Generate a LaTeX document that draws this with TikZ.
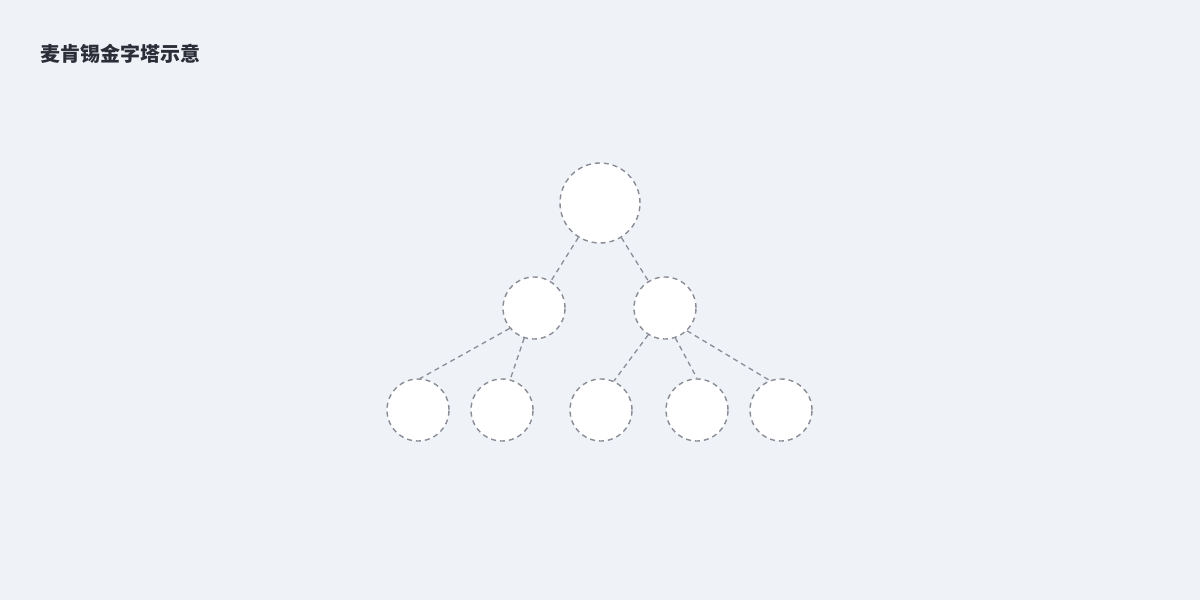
\documentclass[tikz,border=0pt]{standalone}
\usepackage{fontspec}
\newfontfamily\cjk{Noto Sans CJK SC}
\definecolor{bg}{HTML}{EFF2F7}
\definecolor{edge}{HTML}{8A8D96}
\definecolor{titlec}{HTML}{2B2D38}
\tikzset{
  circ/.style={circle, draw=edge, fill=white, line width=1.4pt, dash pattern=on 5pt off 4pt, inner sep=0pt},
  big/.style={circ, minimum size=80pt},
  small/.style={circ, minimum size=62pt},
  link/.style={draw=edge, line width=1.3pt, dash pattern=on 5pt off 4pt}
}
\begin{document}
\begin{tikzpicture}[x=1pt,y=-1pt]
\fill[bg] (0,0) rectangle (1200,600);
\useasboundingbox (0,0) rectangle (1200,600);
\node[anchor=west, text=titlec, font=\cjk\bfseries\fontsize{20}{24}\selectfont, inner sep=0pt] (title) at (40,54) {麦肯锡金字塔示意};
\node[big] (top) at (600,203) {};
\node[small] (ml) at (534,308) {};
\node[small] (mr) at (665,308) {};
\node[small] (l1) at (418,410) {};
\node[small] (l2) at (502,410) {};
\node[small] (l3) at (601,410) {};
\node[small] (l4) at (697,410) {};
\node[small] (l5) at (781,410) {};
\draw[link] (top) -- (ml);
\draw[link] (top) -- (mr);
\draw[link] (ml.-140) -- (l1.86);
\draw[link] (ml.-108) -- (l2.75);
\draw[link] (mr.-122) -- (l3.66);
\draw[link] (mr.-71) -- (l4.90);
\draw[link] (mr.-46) -- (l5.111);
\end{tikzpicture}
\end{document}
